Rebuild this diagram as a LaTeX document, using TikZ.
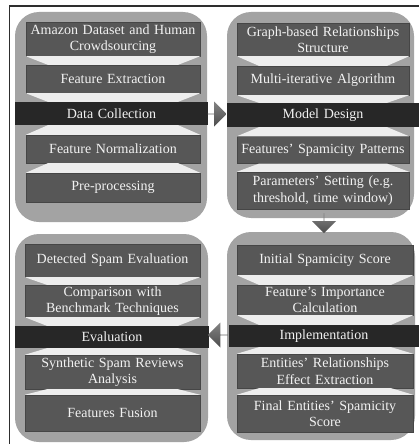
\documentclass[tikz,border=0pt]{standalone}
\usepackage{fontspec}
\setmainfont{Liberation Serif}
\usetikzlibrary{calc,shapes.arrows}
\definecolor{panelc}{HTML}{A3A3A3}
\definecolor{boxc}{HTML}{575757}
\definecolor{bandc}{HTML}{272727}
\definecolor{connc}{HTML}{EDEDED}
\definecolor{txtc}{HTML}{F2F2F2}
\definecolor{framec}{HTML}{2E2E2E}
\definecolor{arrowc}{HTML}{5A5A5A}
\tikzset{
  panel/.style={fill=panelc, rounded corners=24pt, inner sep=0pt},
  ibox/.style={fill=boxc, draw=boxc!80!black, line width=0.4pt, text=txtc, align=center, inner sep=0pt,
    font=\fontsize{14}{16.5}\selectfont},
  band/.style={fill=bandc, text=txtc, align=center, inner sep=0pt, font=\fontsize{14}{16.5}\selectfont},
  conn/.style={fill=connc},
  blockarrow/.style={single arrow, draw=none, inner sep=0pt, single arrow head extend=5pt,
    top color=arrowc!75, bottom color=arrowc!85!black, shading angle=0}
}
\newcommand\downconn[2]{\fill[conn] (#1.south west) -- (#1.south east) -- ($(#1.south east |- #2.north)+(-22,0)$) -- ($(#1.south west |- #2.north)+(22,0)$) -- cycle;}
\newcommand\upconn[2]{\fill[conn] (#2.north west) -- (#2.north east) -- ($(#2.north east |- #1.south)+(-22,0)$) -- ($(#2.north west |- #1.south)+(22,0)$) -- cycle;}
\begin{document}
\begin{tikzpicture}[x=1pt,y=-1pt]
\useasboundingbox (0,0) rectangle (419,444);
\fill[white] (0,0) rectangle (419,444);
% frame
\draw[framec, line width=1.8pt] (9.5,444) -- (9.5,6) -- (419,6);
% panels
\node[panel, minimum width=192pt, minimum height=210pt] (P1) at (111,117) {};
\node[panel, minimum width=187pt, minimum height=206pt] (P2) at (320.5,115) {};
\node[panel, minimum width=193pt, minimum height=208pt] (P3) at (111.5,338) {};
\node[panel, minimum width=188pt, minimum height=208pt] (P4) at (321,336) {};
% top-left
\node[ibox, minimum width=174pt, minimum height=34pt, text width=170pt] (a1) at (113,39) {Amazon Dataset and Human\\Crowdsourcing};
\node[ibox, minimum width=174pt, minimum height=28pt, text width=170pt] (a2) at (113,79) {Feature Extraction};
\node[band, minimum width=193pt, minimum height=23pt, text width=190pt] (a0) at (111.5,113.5) {Data Collection};
\node[ibox, minimum width=174pt, minimum height=28pt, text width=170pt] (a3) at (113,149) {Feature Normalization};
\node[ibox, minimum width=174pt, minimum height=29pt, text width=170pt] (a4) at (113,187.5) {Pre-processing};
\downconn{a1}{a2}\downconn{a2}{a0}\upconn{a0}{a3}\upconn{a3}{a4}
% top-right
\node[ibox, minimum width=172pt, minimum height=33pt, text width=170pt] (b1) at (323,39.5) {Graph-based Relationships\\Structure};
\node[ibox, minimum width=172pt, minimum height=29pt, text width=170pt] (b2) at (323,80.5) {Multi-iterative Algorithm};
\node[band, minimum width=192pt, minimum height=24pt, text width=190pt] (b0) at (323,115) {Model Design};
\node[ibox, minimum width=172pt, minimum height=27pt, text width=170pt] (b3) at (323,150) {Features’ Spamicity Patterns};
\node[ibox, minimum width=172pt, minimum height=37pt, text width=170pt] (b4) at (323,190.5) {Parameters’ Setting (e.g.\\threshold, time window)};
\downconn{b1}{b2}\downconn{b2}{b0}\upconn{b0}{b3}\upconn{b3}{b4}
% bottom-right
\node[ibox, minimum width=176pt, minimum height=30pt, text width=172pt] (d1) at (325,260) {Initial Spamicity Score};
\node[ibox, minimum width=176pt, minimum height=30pt, text width=172pt] (d2) at (325,300) {Feature’s Importance\\Calculation};
\node[band, minimum width=190pt, minimum height=22pt, text width=188pt] (d0) at (324,336) {Implementation};
\node[ibox, minimum width=176pt, minimum height=34pt, text width=172pt] (d3) at (325,371) {Entities’ Relationships\\Effect Extraction};
\node[ibox, minimum width=176pt, minimum height=37pt, text width=172pt] (d4) at (325,413.5) {Final Entities’ Spamicity\\Score};
\downconn{d1}{d2}\downconn{d2}{d0}\upconn{d0}{d3}\upconn{d3}{d4}
% bottom-left
\node[ibox, minimum width=175pt, minimum height=33pt, text width=172pt] (c1) at (112.5,260.5) {Detected Spam Evaluation};
\node[ibox, minimum width=175pt, minimum height=32pt, text width=172pt] (c2) at (112.5,301) {Comparison with\\Benchmark Techniques};
\node[band, minimum width=194pt, minimum height=22pt, text width=190pt] (c0) at (112,337) {Evaluation};
\node[ibox, minimum width=175pt, minimum height=34pt, text width=172pt] (c3) at (112.5,372) {Synthetic Spam Reviews\\Analysis};
\node[ibox, minimum width=175pt, minimum height=36pt, text width=172pt] (c4) at (112.5,413) {Features Fusion};
\downconn{c1}{c2}\downconn{c2}{c0}\upconn{c0}{c3}\upconn{c3}{c4}
% arrows
\node[blockarrow, minimum width=25pt, minimum height=19pt, single arrow head extend=6pt] (r1) at (217,114) {};
\node[blockarrow, minimum width=24pt, minimum height=20pt, shape border rotate=270, single arrow head extend=6pt] (r2) at (324,223) {};
\node[blockarrow, minimum width=25pt, minimum height=20pt, shape border rotate=180, single arrow head extend=6pt] (r3) at (218,335) {};
\end{tikzpicture}
\end{document}
